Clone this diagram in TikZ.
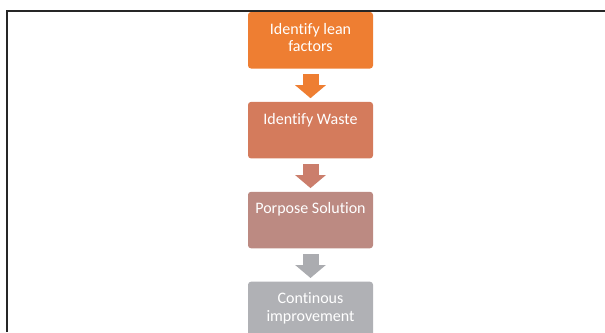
\documentclass[tikz,border=0pt]{standalone}
\usepackage{fontspec}
\setmainfont{Carlito}[Ligatures={NoCommon,NoContextual}]
\usetikzlibrary{positioning,arrows.meta}

\definecolor{leanorange}{HTML}{EE7E32}
\definecolor{wastered}{HTML}{D47B5C}
\definecolor{solutionrose}{HTML}{BC8A82}
\definecolor{improvegrey}{HTML}{B0B1B5}
\definecolor{arrowrose}{HTML}{CB7E6C}
\definecolor{arrowgrey}{HTML}{ABACB0}

\tikzset{
  stage/.style={fill=#1, rounded corners=3pt, minimum width=125pt, minimum height=56.5pt, inner sep=0pt},
  stagetext/.style={anchor=north, yshift=-11pt, inner sep=0pt, align=center, text=white,
    font=\fontsize{16}{17.6}\selectfont},
  flowarrow/.style={draw=#1, line width=16pt, -{Triangle[width=30pt,length=13pt]},
    shorten <=5.5pt, shorten >=3.5pt},
}

\begin{document}
\begin{tikzpicture}[x=1pt, y=-1pt]
  \useasboundingbox (0,0) rectangle (605,332);
  % frame round the chart
  \draw[line width=1.6pt, black!85] (7,332) -- (7,10.8) -- (605,10.8);

  \node[stage=leanorange, label={[stagetext]north:{Identify lean\\factors}}] (lean) at (310.5,40.25) {};
  \node[stage=wastered, below=33pt of lean, label={[stagetext]north:{Identify Waste}}] (waste) {};
  \node[stage=solutionrose, below=33pt of waste, label={[stagetext]north:{Porpose Solution}}] (solution) {};
  \node[stage=improvegrey, below=33pt of solution, label={[stagetext]north:{Continous\\improvement}}] (improve) {};

  \draw[flowarrow=leanorange] (lean) -- (waste);
  \draw[flowarrow=arrowrose] (waste) -- (solution);
  \draw[flowarrow=arrowgrey] (solution) -- (improve);
\end{tikzpicture}
\end{document}
